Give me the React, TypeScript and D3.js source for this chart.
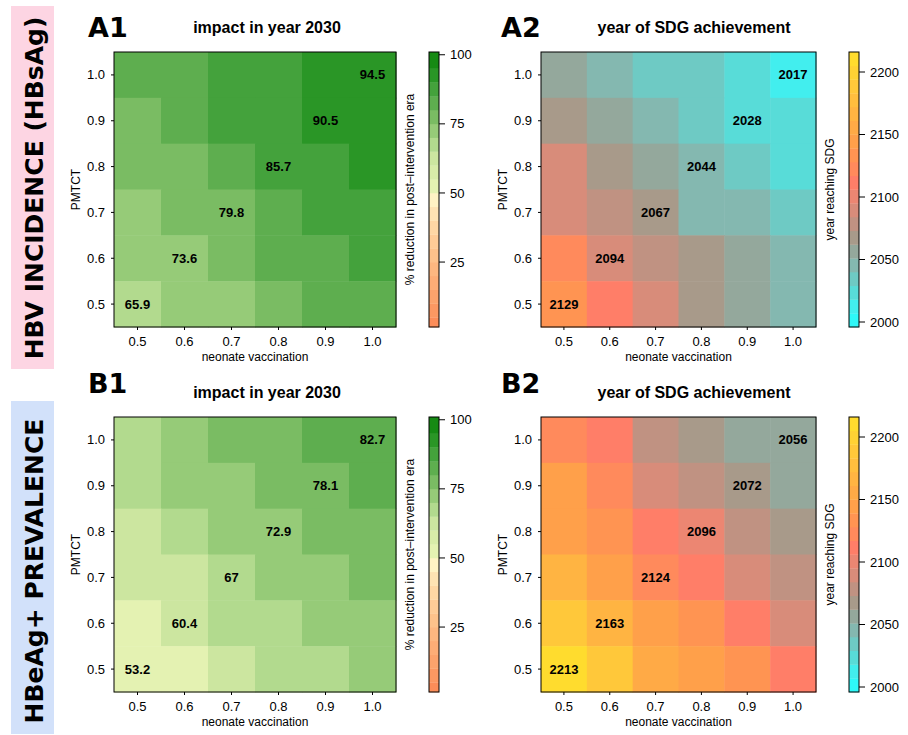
import React from 'react';
import * as d3 from 'd3';

// grid axes: columns = neonate vaccination, rows = PMTCT (top row is 1.0)
const vaccination = ['0.5', '0.6', '0.7', '0.8', '0.9', '1.0'];
const pmtct = ['1.0', '0.9', '0.8', '0.7', '0.6', '0.5'];

// A1: % reduction of HBsAg incidence in 2030
const incidenceImpact = [
  [82.4, 83.9, 86.8, 88.9, 92.2, 94.5],
  [78.6, 82.7, 86.1, 87.9, 90.5, 93.4],
  [76.9, 79.1, 83.5, 85.7, 88.6, 91.8],
  [74.0, 77.8, 79.8, 83.7, 86.9, 89.4],
  [71.3, 73.6, 77.9, 81.4, 84.2, 87.6],
  [65.9, 71.0, 74.3, 78.2, 81.5, 84.6],
];

// A2: year of SDG achievement, incidence
const incidenceYear = [
  [2058, 2046, 2036, 2033, 2024, 2017],
  [2070, 2057, 2045, 2036, 2028, 2022],
  [2090, 2068, 2058, 2044, 2031, 2026],
  [2091, 2080, 2067, 2048, 2046, 2037],
  [2120, 2094, 2082, 2066, 2058, 2049],
  [2129, 2110, 2092, 2069, 2060, 2050],
];

// B1: % reduction of HBeAg+ prevalence in 2030
const prevalenceImpact = [
  [67.5, 72.0, 77.3, 78.5, 81.6, 82.7],
  [66.4, 71.2, 73.8, 77.0, 78.1, 81.9],
  [62.1, 66.9, 71.5, 72.9, 76.8, 78.9],
  [60.8, 62.3, 67, 71.3, 74.2, 77.6],
  [54.6, 60.4, 65.8, 68.2, 71.4, 73.5],
  [53.2, 54.7, 61.0, 65.5, 68.9, 71.7],
];

// B2: year of SDG achievement, prevalence
const prevalenceYear = [
  [2120, 2109, 2080, 2068, 2058, 2056],
  [2142, 2121, 2090, 2082, 2072, 2057],
  [2145, 2132, 2108, 2096, 2078, 2068],
  [2166, 2146, 2124, 2110, 2090, 2080],
  [2186, 2163, 2144, 2130, 2112, 2092],
  [2213, 2183, 2152, 2145, 2128, 2110],
];

const impactTicks = [25, 50, 75, 100];
const yearTicks = [2000, 2050, 2100, 2150, 2200];

const impactPalette = [
  '#fc8d59', '#fc9862', '#fca36c', '#fdad76', '#fdb780',
  '#fdc28b', '#fecc97', '#fed7a4', '#fee3b3', '#fff3c4',
  '#e4f2b2', '#d8eca9', '#cce6a0', '#b2da8e', '#96cb78',
  '#7abc63', '#5eae4f', '#44a23c', '#2a9626', '#168a14',
];
const yearPalette = [
  '#2ef8f8', '#42eeee', '#58dcd8', '#6ecac4', '#84b8b0',
  '#94a89c', '#a89a8a', '#c09282', '#d88c7a', '#ec8672',
  '#ff7e68', '#ff8a5c', '#ff9452', '#ffa04a', '#ffaa46',
  '#ffb442', '#ffbe3e', '#ffc83a', '#ffd234', '#ffdc2e',
];

const impactColor = d3.scaleQuantize<string>().domain([0, 100]).range(impactPalette);
const yearColor = d3.scaleQuantize<string>().domain([1996, 2216]).range(yearPalette);

const font = '"Liberation Sans", Arial, Helvetica, sans-serif';
const bigFont = '"DejaVu Sans", sans-serif';

function Heatmap({ x0, y0, w, h, values, color, barX, barDomain, ticks, barTitle, letter, letterX, letterY, title, titleX }) {
  const x = d3.scaleBand().domain(vaccination).range([x0, x0 + w]);
  const y = d3.scaleBand().domain(pmtct).range([y0, y0 + h]);
  const bar = d3.scaleLinear().domain(barDomain).range([y0 + h, y0]);
  const edges = [color.domain()[0], ...color.thresholds(), color.domain()[1]];
  const barW = 10;

  return (
    <g>
      <text x={letterX} y={letterY} fontFamily={bigFont} fontWeight="bold" fontSize={27}>{letter}</text>
      <text x={titleX} y={y0 - 19} textAnchor="middle" fontFamily={font} fontWeight="bold" fontSize={16}>{title}</text>

      {values.map((row, i) =>
        row.map((v, j) => (
          <rect key={`${i}-${j}`} x={x(vaccination[j])} y={y(pmtct[i])}
            width={x.bandwidth() + 0.5} height={y.bandwidth() + 0.5} fill={color(v)} />
        ))
      )}
      {values.map((row, i) =>
        row.map((v, j) =>
          pmtct[i] === vaccination[j] ? (
            <text key={`l${i}-${j}`} x={x(vaccination[j]) + x.bandwidth() / 2}
              y={y(pmtct[i]) + y.bandwidth() / 2} dy="0.35em" textAnchor="middle"
              fontFamily={font} fontWeight="bold" fontSize={13}>{String(v)}</text>
          ) : null
        )
      )}
      <rect x={x0} y={y0} width={w} height={h} fill="none" stroke="#000" strokeWidth={1} />

      {pmtct.map((p) => (
        <g key={'y' + p}>
          <line x1={x0 - 3} x2={x0} y1={y(p) + y.bandwidth() / 2} y2={y(p) + y.bandwidth() / 2} stroke="#000" />
          <text x={x0 - 9} y={y(p) + y.bandwidth() / 2} dy="0.35em" textAnchor="end"
            fontFamily={font} fontSize={13}>{p}</text>
        </g>
      ))}
      {vaccination.map((v) => (
        <g key={'x' + v}>
          <line x1={x(v) + x.bandwidth() / 2} x2={x(v) + x.bandwidth() / 2} y1={y0 + h} y2={y0 + h + 3} stroke="#000" />
          <text x={x(v) + x.bandwidth() / 2} y={y0 + h + 19} textAnchor="middle"
            fontFamily={font} fontSize={13}>{v}</text>
        </g>
      ))}
      <text x={x0 + w / 2} y={y0 + h + 34} textAnchor="middle" fontFamily={font} fontSize={12}>neonate vaccination</text>
      <text transform={`translate(${x0 - 34},${y0 + h / 2}) rotate(-90)`} textAnchor="middle"
        fontFamily={font} fontSize={12}>PMTCT</text>

      {/* colour key */}
      {edges.slice(0, -1).map((lo, k) => {
        const a = Math.max(lo, barDomain[0]);
        const b = k === edges.length - 2 ? barDomain[1] : Math.min(edges[k + 1], barDomain[1]);
        if (b <= a) return null;
        return <rect key={'b' + k} x={barX} y={bar(b)} width={barW} height={bar(a) - bar(b) + 0.3}
          fill={color.range()[k]} />;
      })}
      <rect x={barX} y={y0} width={barW} height={h} fill="none" stroke="#000" strokeWidth={1} />
      {ticks.map((t) => (
        <g key={'t' + t}>
          <line x1={barX + barW} x2={barX + barW + 6} y1={bar(t)} y2={bar(t)} stroke="#000" />
          <text x={barX + barW + 11} y={bar(t)} dy="0.35em" fontFamily={font} fontSize={13}>{t}</text>
        </g>
      ))}
      <text transform={`translate(${barX - 15},${y0 + h / 2}) rotate(-90)`} textAnchor="middle"
        fontFamily={font} fontSize={12}>{barTitle}</text>
    </g>
  );
}

export default function App() {
  const impactTitle = '% reduction in post\u2013intervention era';
  return (
    <svg width={908} height={735} style={{ position: 'absolute', left: 0, top: 0, background: '#fff' }}>
      <rect x={11} y={6} width={43} height={363} fill="#fdd5e3" />
      <rect x={11} y={401} width={43} height={333} fill="#d2e1fa" />
      <text transform="translate(43,188) rotate(-90)" textAnchor="middle" fontFamily={bigFont}
        fontWeight="bold" fontSize={25}>HBV INCIDENCE (HBsAg)</text>
      <text transform="translate(43,571) rotate(-90)" textAnchor="middle" fontFamily={bigFont}
        fontWeight="bold" fontSize={25}>HBeAg+ PREVALENCE</text>

      <Heatmap x0={114} y0={52} w={282} h={275} values={incidenceImpact} color={impactColor}
        barX={429} barDomain={[1.5, 101]} ticks={impactTicks} barTitle={impactTitle}
        letter="A1" letterX={88} letterY={37} title="impact in year 2030" titleX={267} />
      <Heatmap x0={541} y0={52} w={275} h={275} values={incidenceYear} color={yearColor}
        barX={849} barDomain={[1996, 2216]} ticks={yearTicks} barTitle="year reaching SDG"
        letter="A2" letterX={501} letterY={37} title="year of SDG achievement" titleX={694} />
      <Heatmap x0={114} y0={417} w={282} h={275} values={prevalenceImpact} color={impactColor}
        barX={429} barDomain={[1.5, 101]} ticks={impactTicks} barTitle={impactTitle}
        letter="B1" letterX={88} letterY={393} title="impact in year 2030" titleX={267} />
      <Heatmap x0={541} y0={417} w={275} h={275} values={prevalenceYear} color={yearColor}
        barX={849} barDomain={[1996, 2216]} ticks={yearTicks} barTitle="year reaching SDG"
        letter="B2" letterX={501} letterY={393} title="year of SDG achievement" titleX={694} />
    </svg>
  );
}
